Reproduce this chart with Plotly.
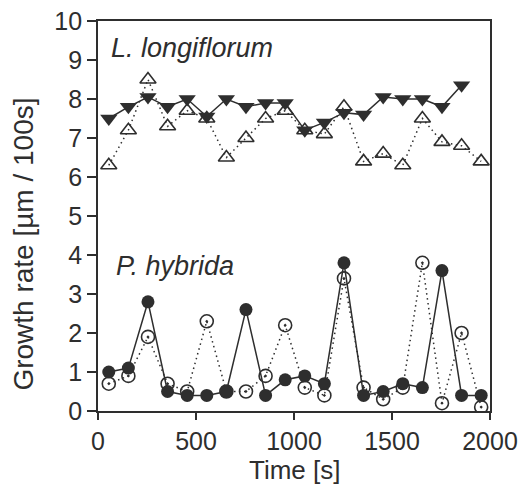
import plotly.graph_objects as go

# time points (s)
time_lily = [55, 155, 255, 355, 455, 555, 655, 755, 855, 955, 1055, 1155, 1255, 1355, 1455, 1555, 1655, 1755, 1855]
time_all = [55, 155, 255, 355, 455, 555, 655, 755, 855, 955, 1055, 1155, 1255, 1355, 1455, 1555, 1655, 1755, 1855, 1955]

# L. longiflorum
lily_filled = [7.5, 7.8, 8.05, 7.8, 8.0, 7.55, 8.0, 7.8, 7.9, 7.9, 7.2, 7.4, 7.65, 7.6, 8.05, 8.0, 8.0, 7.8, 8.35]
lily_open = [6.3, 7.2, 8.5, 7.3, 7.7, 7.5, 6.5, 7.0, 7.5, 7.7, 7.2, 7.1, 7.8, 6.4, 6.6, 6.3, 7.5, 6.9, 6.8, 6.4]

# P. hybrida
pet_filled = [1.0, 1.1, 2.8, 0.5, 0.4, 0.4, 0.5, 2.6, 0.4, 0.8, 0.9, 0.7, 3.8, 0.4, 0.5, 0.7, 0.6, 3.6, 0.4, 0.4]
pet_open = [0.7, 0.9, 1.9, 0.7, 0.5, 2.3, 0.5, 0.5, 0.9, 2.2, 0.6, 0.4, 3.4, 0.6, 0.3, 0.6, 3.8, 0.2, 2.0, 0.1]

ink = "#2e2e2e"
font_family = "Liberation Sans, Arial, sans-serif"
dotted = dict(color=ink, width=1.5, dash="1.5px,3.5px")

fig = go.Figure()

# dotted series first so filled markers sit on top
fig.add_trace(go.Scatter(x=time_all, y=lily_open, mode="lines+markers", line=dotted,
                         marker=dict(symbol="triangle-up-open", size=14, color=ink,
                                     line=dict(width=1.6, color=ink))))
fig.add_trace(go.Scatter(x=time_lily, y=lily_filled, mode="lines+markers",
                         line=dict(color=ink, width=1.5),
                         marker=dict(symbol="triangle-down", size=15, color=ink)))
fig.add_trace(go.Scatter(x=time_all, y=pet_open, mode="lines+markers", line=dotted,
                         marker=dict(symbol="circle-open-dot", size=13, color=ink,
                                     line=dict(width=1.6, color=ink))))
fig.add_trace(go.Scatter(x=time_all, y=pet_filled, mode="lines+markers",
                         line=dict(color=ink, width=1.5),
                         marker=dict(symbol="circle", size=13, color=ink)))

fig.add_annotation(x=55, y=9.3, text="<i>L. longiflorum</i>", showarrow=False,
                   xanchor="left", yanchor="middle",
                   font=dict(size=27, color=ink, family=font_family))
fig.add_annotation(x=80, y=3.72, text="<i>P. hybrida</i>", showarrow=False,
                   xanchor="left", yanchor="middle",
                   font=dict(size=27, color=ink, family=font_family))

# axis titles placed by hand
fig.add_annotation(x=0.5, y=-0.152, xref="paper", yref="paper", text="Time [s]",
                   showarrow=False, xanchor="center", yanchor="middle",
                   font=dict(size=26, color=ink, family=font_family))
fig.add_annotation(x=-0.19, y=0.428, xref="paper", yref="paper", text="Growth rate [µm / 100s]",
                   showarrow=False, textangle=-90, xanchor="center", yanchor="middle",
                   font=dict(size=28, color=ink, family=font_family))

fig.update_layout(
    width=521, height=486,
    margin=dict(l=98, r=31, t=21, b=75),
    paper_bgcolor="white", plot_bgcolor="white",
    showlegend=False,
    font=dict(family=font_family, color=ink, size=25),
)
fig.update_xaxes(range=[0, 2000], tickvals=[0, 500, 1000, 1500, 2000],
                 ticks="outside", ticklen=7, tickwidth=1.5, tickcolor=ink,
                 showline=True, linecolor=ink, linewidth=1.8, mirror=True,
                 showgrid=False, zeroline=False, automargin=False,
                 tickfont=dict(size=25))
fig.update_yaxes(range=[0, 10], tickvals=list(range(0, 11)),
                 ticks="outside", ticklen=9, tickwidth=1.5, tickcolor=ink,
                 showline=True, linecolor=ink, linewidth=1.8, mirror=True,
                 showgrid=False, zeroline=False, automargin=False,
                 tickfont=dict(size=25))

# drop the default page margin so the figure fills the window exactly
fig.write_html("out.html", config={"displayModeBar": False},
               post_script="document.body.style.margin='0';document.body.style.overflow='hidden';")
